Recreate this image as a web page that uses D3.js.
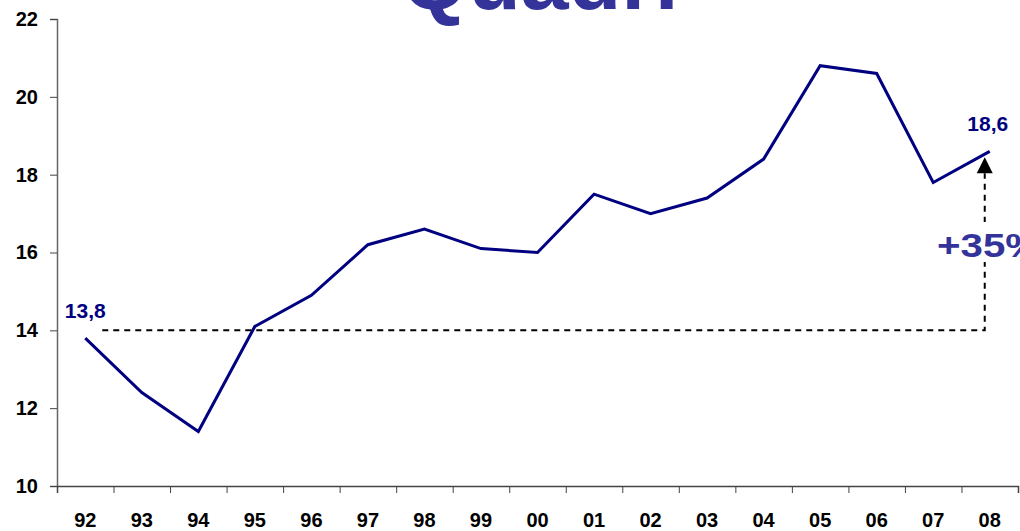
<!DOCTYPE html>
<html>
<head>
<meta charset="utf-8">
<script src="https://cdn.jsdelivr.net/npm/d3@7"></script>
<style>
  body { margin: 0; background: #fff; }
  text { font-family: Arial, "Liberation Sans", sans-serif; font-weight: bold; }
</style>
</head>
<body>
<div id="canvas"></div>
<script>
// data
var years = ['92','93','94','95','96','97','98','99','00','01','02','03','04','05','06','07','08'];
var values = [13.8,12.4,11.4,14.1,14.9,16.2,16.6,16.1,16.0,17.5,17.0,17.4,18.4,20.8,20.6,17.8,18.6];
var yTicks = [10,12,14,16,18,20,22];
var baseLevel = 14;        // dashed reference line
var growthLabel = '+35%';
var titleText = 'Quadri';

var svg = d3.select('#canvas').append('svg')
  .attr('width', 1020)
  .attr('height', 531);

var x = d3.scaleBand().domain(years).range([57, 1018]);
var xEdge = d3.scaleLinear().domain([0, years.length]).range([57, 1018]);
var y = d3.scaleLinear().domain([10, 22]).range([486, 19]);

// title, mostly cut off by the top edge
svg.append('text')
  .attr('x', 540)
  .attr('y', 9)
  .attr('text-anchor', 'middle')
  .style('font-size', '86px')
  .attr('fill', '#333399')
  .text(titleText);

// y axis
var yAxis = svg.append('g')
  .attr('transform', 'translate(57,0)')
  .call(d3.axisLeft(y).tickValues(yTicks).tickSize(7).tickPadding(12));
yAxis.select('.domain').attr('stroke', '#666').attr('stroke-width', 1.5);
yAxis.selectAll('.tick line').attr('stroke', '#444');
yAxis.selectAll('.tick text').style('font-size', '20px').attr('fill', '#000');

// x axis: ticks at category boundaries
var xAxis = svg.append('g')
  .attr('transform', 'translate(0,486)')
  .call(d3.axisBottom(xEdge).tickValues(d3.range(years.length + 1)).tickSize(7).tickFormat(''));
xAxis.select('.domain').attr('stroke', '#444').attr('stroke-width', 1.5);
xAxis.selectAll('.tick line').attr('stroke', '#444');

// x labels centered in each band
var xLab = svg.append('g')
  .attr('transform', 'translate(0,486)')
  .call(d3.axisBottom(x).tickSize(0).tickPadding(27));
xLab.select('.domain').remove();
xLab.selectAll('.tick text').style('font-size', '20px').attr('fill', '#000');

var cx = function(i) { return x(years[i]) + x.bandwidth() / 2; };
var last = years.length - 1;

// dashed reference path
var vx = cx(last) - 5;
svg.append('path')
  .attr('d', 'M' + (cx(0) + 17) + ',' + y(baseLevel) + 'H' + vx + 'V' + (y(values[last]) + 22))
  .attr('fill', 'none')
  .attr('stroke', '#000')
  .attr('stroke-width', 2)
  .attr('stroke-dasharray', '6,5');

// arrowhead
var tipY = y(values[last]) + 6;
svg.append('path')
  .attr('d', 'M' + vx + ',' + tipY + 'L' + (vx - 8) + ',' + (tipY + 16) + 'L' + (vx + 8) + ',' + (tipY + 16) + 'Z')
  .attr('fill', '#000');

// white backdrop for the growth label then the label (stretched like the original)
svg.append('rect')
  .attr('x', 932).attr('y', 222).attr('width', 90).attr('height', 40)
  .attr('fill', '#fff');
svg.append('text')
  .attr('transform', 'translate(937,257) scale(1.22,1)')
  .style('font-size', '33px')
  .attr('fill', '#333399')
  .text(growthLabel);

// main line
var line = d3.line()
  .x(function(d, i) { return cx(i); })
  .y(function(d) { return y(d); });

svg.append('path')
  .datum(values)
  .attr('d', line)
  .attr('fill', 'none')
  .attr('stroke', '#000080')
  .attr('stroke-width', 3)
  .attr('stroke-linejoin', 'miter');

// end labels
svg.append('text')
  .attr('x', cx(0))
  .attr('y', y(values[0]) - 20)
  .attr('text-anchor', 'middle')
  .style('font-size', '21px')
  .attr('fill', '#000080')
  .text(String(values[0]).replace('.', ','));

svg.append('text')
  .attr('x', cx(last) - 2)
  .attr('y', y(values[last]) - 20)
  .attr('text-anchor', 'middle')
  .style('font-size', '21px')
  .attr('fill', '#000080')
  .text(String(values[last]).replace('.', ','));
</script>
</body>
</html>
